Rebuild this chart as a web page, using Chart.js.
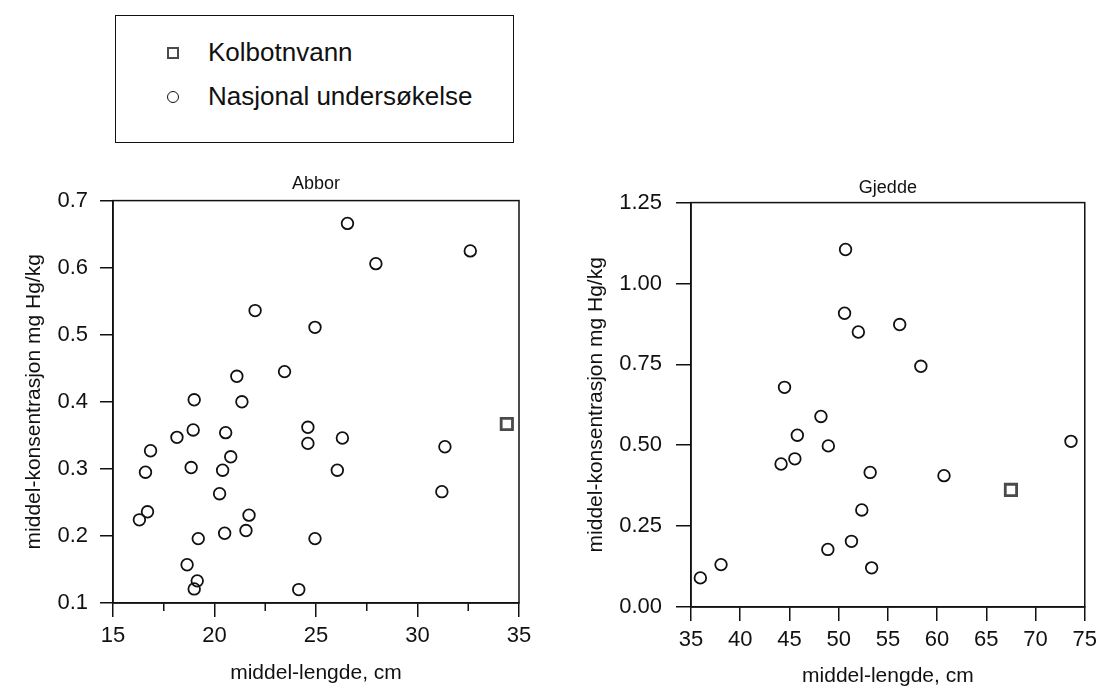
<!DOCTYPE html>
<html lang="no">
<head>
  <meta charset="UTF-8">
  <title>Kvikksølv i abbor og gjedde</title>
  <script src="https://cdn.jsdelivr.net/npm/chart.js"></script>
  <style>
    body { margin: 0; background: #fff; font-family: "Liberation Sans", Arial, sans-serif; }
    #page { position: relative; width: 1103px; height: 695px; overflow: hidden; }
    .legend { position: absolute; left: 115px; top: 15px; width: 397px; height: 126px; border: 1.5px solid #111; }
    .legend .sym { position: absolute; box-sizing: border-box; }
    .legend .sq { left: 51px; top: 31px; width: 12px; height: 12px; border: 2.6px solid #4a4a4a; }
    .legend .ci { left: 51px; top: 75px; width: 12px; height: 12px; border: 1.8px solid #111; border-radius: 50%; }
    .legend .lbl { position: absolute; left: 92px; font-size: 26px; line-height: 26px; color: #111; white-space: nowrap; }
    .plot { position: absolute; top: 150px; }
  </style>
</head>
<body>
<div id="page">
  <div class="legend">
    <span class="sym sq"></span><span class="lbl" style="top:23px">Kolbotnvann</span>
    <span class="sym ci"></span><span class="lbl" style="top:67px">Nasjonal undersøkelse</span>
  </div>
  <div class="plot" style="left:0px"><canvas id="abbor" width="545" height="545"></canvas></div>
  <div class="plot" style="left:555px"><canvas id="gjedde" width="548" height="545"></canvas></div>
</div>
<script>
  // Abbor: nasjonal undersøkelse (middel-lengde cm, mg Hg/kg)
  const abborLengde = [22.0, 24.95, 21.1, 23.45, 19.0, 21.35, 26.55, 27.95, 32.6, 18.95,
    18.15, 20.55, 16.85, 20.8, 16.6, 18.85, 20.4, 20.25, 16.7, 16.3,
    21.7, 21.55, 20.5, 19.2, 18.65, 19.15, 19.0, 24.15, 24.6, 24.6,
    24.95, 26.3, 26.05, 31.35, 31.2];
  const abborHg = [0.536, 0.511, 0.438, 0.445, 0.403, 0.400, 0.666, 0.606, 0.625, 0.358,
    0.347, 0.354, 0.327, 0.318, 0.295, 0.302, 0.298, 0.263, 0.236, 0.224,
    0.231, 0.208, 0.204, 0.196, 0.157, 0.133, 0.121, 0.120, 0.362, 0.338,
    0.196, 0.346, 0.298, 0.333, 0.266];
  const abborKolbotnLengde = [34.4];
  const abborKolbotnHg = [0.367];

  // Gjedde
  const gjeddeLengde = [50.7, 50.6, 52.0, 44.5, 48.2, 45.8, 48.95, 45.55, 44.15, 53.2,
    52.35, 51.3, 48.9, 53.35, 38.05, 35.95, 56.2, 58.35, 73.6, 60.7];
  const gjeddeHg = [1.105, 0.908, 0.850, 0.679, 0.589, 0.531, 0.498, 0.458, 0.442, 0.416,
    0.300, 0.203, 0.178, 0.121, 0.131, 0.090, 0.873, 0.744, 0.512, 0.406];
  const gjeddeKolbotnLengde = [67.5];
  const gjeddeKolbotnHg = [0.362];

  const abborXTicks = [15, 20, 25, 30, 35];
  const abborXMinor = [17.5, 22.5, 27.5, 32.5];
  const abborYTicks = [0.1, 0.2, 0.3, 0.4, 0.5, 0.6, 0.7];
  const gjeddeXTicks = [35, 40, 45, 50, 55, 60, 65, 70, 75];
  const gjeddeYTicks = [0, 0.25, 0.5, 0.75, 1.0, 1.25];

  const FONT = '"Liberation Sans", Arial, sans-serif';
  const zip = (xs, ys) => xs.map((x, i) => ({x: x, y: ys[i]}));

  // ramme rundt plottet + korte mellomstreker på x-aksen
  const framePlugin = {
    id: 'frame',
    afterDraw(chart) {
      const {ctx, chartArea: a} = chart;
      ctx.save();
      ctx.strokeStyle = '#111';
      ctx.lineWidth = 1.5;
      ctx.strokeRect(a.left, a.top, a.right - a.left, a.bottom - a.top);
      const minor = chart.options.plugins.frame.minor || [];
      const sx = chart.scales.x;
      minor.forEach(v => {
        const px = sx.getPixelForValue(v);
        ctx.beginPath();
        ctx.moveTo(px, a.bottom);
        ctx.lineTo(px, a.bottom + 8);
        ctx.stroke();
      });
      ctx.restore();
    }
  };

  function makeChart(id, o) {
    return new Chart(document.getElementById(id), {
      type: 'scatter',
      data: {
        datasets: [
          {
            label: 'Nasjonal undersøkelse',
            data: zip(o.x, o.y),
            pointStyle: 'circle',
            pointRadius: 5.8,
            borderWidth: 1.8,
            borderColor: '#111',
            backgroundColor: 'rgba(0,0,0,0)'
          },
          {
            label: 'Kolbotnvann',
            data: zip(o.kx, o.ky),
            pointStyle: 'rect',
            pointRadius: 8,
            borderWidth: 2.8,
            borderColor: '#4a4a4a',
            backgroundColor: 'rgba(0,0,0,0)'
          }
        ]
      },
      options: {
        responsive: false,
        animation: false,
        devicePixelRatio: 1,
        layout: { padding: { top: 0, right: o.padRight, bottom: 0, left: 0 } },
        plugins: {
          legend: { display: false },
          tooltip: { enabled: false },
          title: {
            display: true,
            text: o.title,
            fullSize: false,
            color: '#111',
            font: { family: FONT, size: 18, weight: 'normal', lineHeight: 1.2 },
            padding: o.titlePad
          },
          frame: { minor: o.minor }
        },
        scales: {
          x: {
            type: 'linear',
            min: o.xTicks[0],
            max: o.xTicks[o.xTicks.length - 1],
            afterBuildTicks: s => { s.ticks = o.xTicks.map(v => ({value: v})); },
            afterFit: s => { s.height = o.xHeight; },
            grid: { drawOnChartArea: false, tickLength: 14, color: '#111', lineWidth: 1.5 },
            border: { color: '#111', width: 1.5 },
            ticks: { color: '#111', padding: 6, maxRotation: 0, font: { family: FONT, size: 22 } },
            title: {
              display: true,
              text: 'middel-lengde, cm',
              color: '#111',
              font: { family: FONT, size: 21, lineHeight: 1.2 },
              padding: { top: 0, bottom: o.xTitlePad }
            }
          },
          y: {
            type: 'linear',
            min: o.yTicks[0],
            max: o.yTicks[o.yTicks.length - 1],
            afterBuildTicks: s => { s.ticks = o.yTicks.map(v => ({value: v})); },
            afterFit: s => { s.width = o.yWidth; },
            grid: { drawOnChartArea: false, tickLength: o.yTickLen, color: '#111', lineWidth: 1.5 },
            border: { color: '#111', width: 1.5 },
            ticks: {
              color: '#111',
              padding: o.yTickPad,
              font: { family: FONT, size: 22 },
              callback: v => v.toFixed(o.yDec)
            },
            title: {
              display: true,
              text: 'middel-konsentrasjon mg Hg/kg',
              color: '#111',
              font: { family: FONT, size: 21, lineHeight: 1.2 },
              padding: { top: o.yTitlePad, bottom: 0 }
            }
          }
        }
      },
      plugins: [framePlugin]
    });
  }

  makeChart('abbor', {
    title: 'Abbor',
    x: abborLengde, y: abborHg, kx: abborKolbotnLengde, ky: abborKolbotnHg,
    xTicks: abborXTicks, yTicks: abborYTicks, minor: abborXMinor, yDec: 1,
    padRight: 26, titlePad: { top: 23, bottom: 6 },
    xHeight: 92, yWidth: 113, yTickLen: 13, yTickPad: 12,
    xTitlePad: 9, yTitlePad: 22
  });

  makeChart('gjedde', {
    title: 'Gjedde',
    x: gjeddeLengde, y: gjeddeHg, kx: gjeddeKolbotnLengde, ky: gjeddeKolbotnHg,
    xTicks: gjeddeXTicks, yTicks: gjeddeYTicks, minor: [], yDec: 2,
    padRight: 10, titlePad: { top: 27, bottom: 4 },
    xHeight: 88, yWidth: 136, yTickLen: 15, yTickPad: 14,
    xTitlePad: 6, yTitlePad: 29
  });
</script>
</body>
</html>
